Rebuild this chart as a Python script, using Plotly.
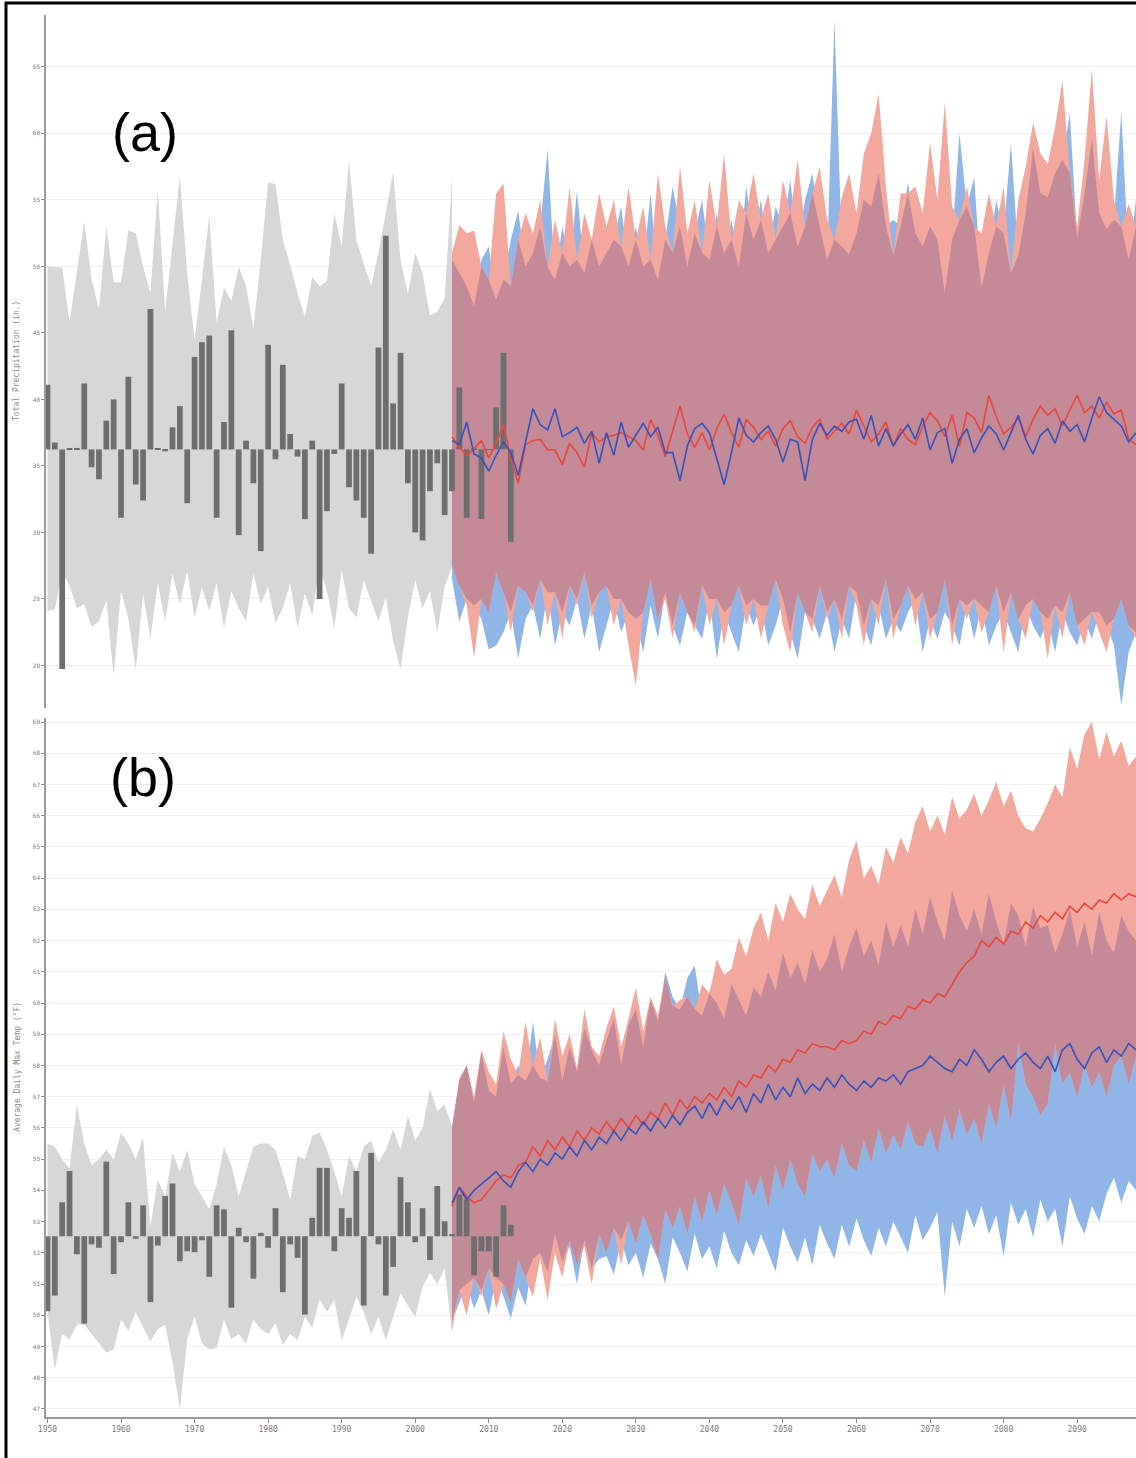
import numpy as np
import plotly.graph_objects as go

# ---------------- data ----------------
HIST_YEARS = list(range(1950, 2006))
BAR_YEARS = list(range(1950, 2014))
PROJ_YEARS = list(range(2005, 2099))
X_TICKS = list(range(1950, 2091, 10))
PRECIP_TICKS = list(range(20, 66, 5))
TEMP_TICKS = list(range(47, 70, 1))

PRECIP_BASE = 36.24
TEMP_BASE = 52.53

PRECIP_HIST_HI = [50.0, 49.95, 49.9, 45.8, 49.6, 53.4, 49.0, 46.8, 53.0, 48.8,
                  48.8, 52.7, 52.5, 50.0, 48.0, 55.8, 46.6, 51.5, 56.8, 49.5,
                  44.5, 49.0, 53.8, 45.8, 48.4, 47.4, 50.0, 48.5, 45.3, 50.5,
                  56.3, 56.2, 52.0, 50.1, 48.0, 46.2, 49.2, 48.5, 48.9, 54.0,
                  51.5, 58.0, 52.0, 50.2, 48.5, 51.0, 54.0, 57.1, 50.5, 47.9,
                  51.0, 49.5, 46.3, 46.6, 47.6, 56.7]
PRECIP_HIST_LO = [24.1, 24.2, 27.0, 26.0, 24.3, 24.6, 22.9, 23.3, 24.9, 19.2,
                  25.6, 23.5, 19.7, 25.4, 22.0, 26.2, 23.3, 26.9, 24.6, 27.1,
                  23.6, 25.9, 24.1, 26.2, 22.8, 25.6, 24.3, 23.3, 26.9, 24.6,
                  25.9, 23.2, 24.3, 26.2, 22.8, 25.4, 23.8, 27.4, 25.6, 22.8,
                  27.2, 24.3, 23.6, 26.4, 24.8, 23.3, 25.1, 21.8, 19.7, 23.6,
                  26.4, 24.3, 25.6, 22.5, 25.9, 27.4]
PRECIP_BARS = [41.1, 36.76, 19.74, 36.3, 36.35, 41.2, 34.9, 34.0, 38.4, 40.0,
               31.1, 41.7, 33.6, 32.4, 46.8, 36.3, 36.1, 37.9, 39.5, 32.2,
               43.2, 44.3, 44.8, 31.1, 38.3, 45.2, 29.8, 36.9, 33.7, 28.6,
               44.1, 35.5, 42.6, 37.4, 35.7, 31.0, 36.9, 25.0, 31.6, 35.9,
               41.2, 33.4, 32.4, 31.1, 28.4, 43.9, 52.3, 39.7, 43.5, 33.7,
               30.0, 29.4, 33.1, 35.2, 31.3, 33.1, 40.9, 31.1, 36.3, 31.0,
               36.2, 39.4, 43.5, 29.3]
PRECIP_RED_HI = [51.0, 53.1, 52.5, 52.7, 50.0, 49.0, 55.5, 56.2, 48.5, 52.0, 54.0,
                 52.5, 55.0, 50.0, 53.5, 51.0, 56.0, 50.5, 54.0, 52.0, 55.5,
                 53.0, 55.0, 51.5, 56.0, 52.0, 54.5, 50.5, 57.0, 53.0, 51.0,
                 57.5, 52.5, 55.0, 51.0, 56.5, 53.0, 58.5, 52.0, 55.0, 54.0,
                 57.0, 53.5, 55.5, 52.0, 56.5, 54.0, 58.0, 53.0, 55.5, 57.5,
                 53.5, 52.0, 55.2, 57.0, 54.0, 58.5, 60.0, 63.0, 56.0, 50.8,
                 55.5, 55.5, 56.0, 54.0, 59.3, 55.0, 62.3, 54.5, 53.5, 56.0,
                 53.0, 52.5, 55.5, 53.0, 56.0, 49.5, 55.0, 57.5, 60.8, 58.5,
                 57.7, 60.5, 64.0, 57.0, 53.0, 58.0, 64.8, 56.5, 61.3, 55.0, 53.0, 54.7, 53.0]
PRECIP_BLUE_HI = [50.5, 49.5, 48.5, 47.0, 50.5, 51.5, 47.5, 49.0, 52.0, 54.2, 50.0,
                  51.0, 53.0, 58.8, 49.0, 53.0, 50.0, 55.7, 49.5, 52.0, 50.0,
                  51.0, 52.0, 54.5, 50.0, 53.0, 50.0, 55.5, 49.0, 52.0, 56.0,
                  53.0, 50.0, 52.5, 55.0, 50.5, 54.0, 51.0, 53.5, 50.0, 56.0,
                  52.0, 55.0, 51.0, 54.5, 53.0, 56.5, 51.5, 55.0, 57.0, 53.0,
                  50.5, 68.5, 51.5, 50.9, 52.5, 55.0, 54.5, 57.0, 53.0, 53.5,
                  53.0, 56.3, 52.5, 51.5, 53.0, 52.0, 48.0, 52.0, 60.0, 54.5,
                  56.7, 48.4, 51.0, 55.0, 52.5, 59.3, 50.8, 54.0, 58.9, 55.5,
                  55.2, 57.0, 58.0, 61.5, 52.1, 55.5, 59.6, 54.0, 52.8, 53.5, 61.6, 50.5, 55.0]
PRECIP_RED_LO = [27.5, 26.0, 24.5, 20.6, 25.0, 24.0, 27.0, 25.5, 22.5, 26.0, 25.5,
                 24.0, 26.5, 23.0, 25.5, 22.0, 26.0, 24.5, 27.0, 23.5, 25.5,
                 26.0, 23.0, 25.0, 21.5, 18.5, 24.0, 26.5, 23.5, 25.0, 22.0,
                 25.5, 24.0, 22.5, 26.0, 23.0, 25.0, 21.5, 24.5, 26.0, 23.0,
                 25.0, 22.0, 24.5, 26.5, 23.0, 21.0, 25.5, 24.0, 22.5, 26.0,
                 23.5, 25.0, 22.0, 26.0, 24.5, 21.5, 25.0, 23.0, 26.5, 22.0,
                 24.5, 26.0, 23.0, 25.5, 22.0, 24.0, 26.5, 21.5, 25.0, 23.5,
                 25.0, 22.5, 24.0, 26.0, 21.0, 25.5, 23.5, 22.0, 25.0, 24.0,
                 20.5, 24.5, 22.0, 25.5, 23.0, 21.5, 24.0, 22.5, 21.0, 23.5, 25.0, 23.0, 22.0]
PRECIP_BLUE_LO = [26.5, 23.3, 25.0, 24.5, 23.5, 21.2, 21.5, 22.5, 24.0, 20.5, 23.5,
                  24.5, 22.0, 25.5, 21.5, 24.0, 23.0, 25.0, 22.0, 24.5, 21.0,
                  23.0, 25.0, 22.5, 24.0, 23.5, 21.0, 24.5, 22.0, 25.5, 23.0,
                  21.5, 24.0, 23.0, 22.0, 25.0, 20.5, 24.0, 22.5, 21.0, 24.5,
                  23.0, 24.5, 21.5, 23.0, 25.0, 22.5, 20.5, 24.0, 23.5, 22.0,
                  24.0, 21.0, 23.5, 22.0, 25.5, 23.0, 21.5, 24.5, 22.0, 23.5,
                  22.5, 24.0, 25.0, 21.0, 23.5, 22.0, 24.0, 23.0, 21.5, 24.5,
                  22.0, 24.5, 21.5, 23.0, 24.0, 22.5, 21.0, 24.5, 23.0, 22.0,
                  23.5, 21.0, 24.0, 22.5, 21.5, 23.5, 22.0, 24.0, 23.0, 21.5, 17.0, 21.0, 22.5]
PRECIP_RED_MID = [37.2, 36.4, 35.8, 36.3, 36.9, 35.6, 36.7, 38.1, 35.6, 33.7, 36.6,
                  36.9, 37.0, 36.2, 36.2, 35.1, 36.7, 36.0, 34.9, 37.5, 36.8,
                  37.2, 37.3, 37.5, 37.2, 36.9, 36.2, 38.5, 37.3, 35.7, 37.6,
                  39.5, 37.4, 36.4, 37.5, 36.2, 37.8, 38.9, 37.5, 36.4, 38.5,
                  37.9, 37.0, 37.6, 36.5, 37.8, 38.4, 37.2, 36.7, 37.9, 38.5,
                  37.0, 37.6, 38.2, 37.4, 39.2, 38.0, 36.8, 37.4, 38.3, 36.5,
                  37.8, 37.0, 36.6, 38.0, 39.0, 38.4, 37.2, 38.8, 36.5, 39.0,
                  38.6, 37.5, 40.3, 38.7, 37.4, 37.9, 38.6, 37.2, 38.5, 39.5,
                  38.8, 39.3, 38.0, 39.2, 40.3, 39.0, 39.5, 38.6, 39.8, 38.9, 39.2, 37.0, 36.6]
PRECIP_BLUE_MID = [36.9, 36.6, 38.3, 35.9, 35.6, 34.6, 35.8, 36.8, 36.0, 34.3, 36.8,
                   39.3, 38.1, 37.7, 39.3, 37.2, 37.5, 37.9, 36.7, 37.6, 35.2,
                   37.5, 35.8, 38.3, 36.4, 37.3, 38.2, 37.2, 37.9, 36.0, 36.0,
                   33.9, 36.5, 37.8, 38.2, 37.5, 35.5, 33.6, 36.0, 38.6, 37.3,
                   36.8, 37.5, 38.0, 37.0, 35.3, 37.0, 36.8, 33.9, 37.0, 38.2,
                   37.3, 38.0, 37.6, 38.3, 38.5, 37.0, 38.8, 36.5, 37.8, 36.5,
                   37.4, 38.1, 37.0, 38.6, 36.2, 37.5, 37.8, 35.2, 37.0, 37.8,
                   36.0, 37.1, 38.0, 37.4, 36.2, 37.5, 38.8, 37.0, 35.9, 37.3,
                   37.8, 36.7, 38.4, 37.6, 38.1, 36.8, 38.6, 40.2, 39.0, 38.5, 38.0, 36.8, 37.5]

TEMP_HIST_HI = [55.5, 55.4, 55.0, 54.7, 56.75, 55.5, 54.8, 55.0, 55.3, 55.0,
                55.85, 55.5, 55.0, 55.7, 52.85, 54.35, 53.8, 55.2, 54.6, 55.3,
                54.2, 53.8, 53.4, 54.2, 55.4, 54.8, 53.8, 54.6, 55.4, 55.5,
                55.5, 55.3, 54.55, 53.7, 55.1, 55.0, 55.75, 55.85, 55.3, 54.6,
                53.8, 55.1, 54.6, 55.4, 55.6, 54.9, 55.3, 55.95, 55.3, 56.4,
                55.6, 56.0, 57.25, 56.55, 56.75, 56.05]
TEMP_HIST_LO = [50.1, 48.26, 49.4, 49.22, 49.7, 49.7, 49.4, 49.1, 48.8, 48.9,
                49.86, 49.5, 50.1, 49.6, 49.17, 49.55, 49.7, 48.5, 46.98, 49.22,
                49.97, 49.1, 48.9, 48.95, 49.86, 49.22, 49.4, 49.1, 49.86, 49.55,
                49.4, 49.75, 49.05, 49.4, 49.2, 49.95, 49.6, 50.5, 50.1, 50.5,
                49.2, 49.86, 50.6, 50.1, 49.4, 49.95, 49.2, 49.95, 50.7, 50.3,
                49.95, 50.9, 51.36, 51.0, 51.5, 49.4]
TEMP_BARS = [50.13, 50.63, 53.62, 54.62, 51.95, 49.73, 52.27, 52.16, 54.92, 51.32,
             52.34, 53.62, 52.45, 53.52, 50.42, 52.23, 53.82, 54.22, 51.73, 52.05,
             52.02, 52.4, 51.23, 53.52, 53.39, 50.24, 52.8, 52.34, 51.17, 52.64,
             52.16, 53.43, 50.74, 52.27, 51.84, 50.02, 53.12, 54.72, 54.72, 52.05,
             53.43, 53.12, 54.62, 50.31, 55.2, 52.27, 50.63, 51.55, 54.42, 53.62,
             52.34, 53.43, 51.77, 54.14, 53.01, 52.6, 53.87, 53.71, 51.28, 52.05,
             52.05, 51.23, 53.52, 52.9]
TEMP_RED_HI = [56.0, 57.6, 58.0, 57.0, 58.5, 57.8, 57.4, 59.1, 58.2, 57.7, 59.4,
               58.0, 58.9, 57.5, 59.5, 58.3, 59.0, 57.9, 59.8, 58.6, 58.3,
               59.2, 59.9, 58.6, 59.5, 60.5, 59.1, 60.2, 59.6, 60.8, 59.9,
               60.1, 60.2, 59.8, 60.6, 60.3, 61.4, 60.9, 61.1, 62.1, 61.5,
               62.4, 62.9, 62.0, 63.2, 62.6, 63.5, 63.0, 62.7, 63.8, 63.1,
               63.6, 64.1, 63.4, 64.6, 65.2, 64.0, 64.4, 63.8, 65.0, 64.5,
               65.3, 64.8, 65.8, 66.3, 65.5, 66.0, 65.4, 66.6, 65.9, 66.2,
               66.7, 66.0, 66.5, 67.1, 66.3, 66.8, 66.0, 65.6, 65.5, 65.9,
               66.4, 67.0, 66.6, 68.2, 67.5, 68.6, 69.0, 67.8, 68.7, 67.9, 68.4, 67.6, 67.9]
TEMP_BLUE_HI = [56.0, 57.5, 58.0, 56.8, 58.4, 57.2, 57.0, 58.6, 57.4, 58.0, 57.5,
                59.4, 57.6, 58.2, 59.0, 57.5, 58.6, 57.8, 59.2, 58.5, 58.0,
                58.8, 59.5, 58.0, 59.3, 59.8, 58.6, 60.1, 59.4, 61.0, 60.2,
                59.8, 60.8, 61.2, 59.6, 60.4, 60.0, 59.5, 60.6, 60.1, 59.6,
                60.5, 60.2, 61.0, 60.4, 61.6, 60.8, 61.3, 60.6, 61.7, 61.0,
                61.4, 62.2, 61.0, 61.8, 62.4, 61.5, 62.0, 61.2, 62.6, 61.8,
                62.5, 61.8, 63.0, 62.2, 63.4, 62.6, 62.0, 63.6, 62.8, 62.3,
                63.0, 62.2, 63.5, 62.6, 61.9, 63.2, 62.8, 61.8, 63.1, 62.4,
                62.5, 61.6, 62.2, 63.0, 61.8, 62.6, 61.5, 62.9, 62.0, 61.6, 62.8, 62.3, 62.0]
TEMP_RED_LO = [49.5, 50.8, 50.0, 51.2, 50.6, 51.5, 50.2, 51.0, 50.4, 51.8, 51.2,
               50.6, 51.8, 50.5, 52.0, 51.2, 52.4, 51.6, 52.2, 51.0, 52.6,
               52.0, 52.8, 51.6, 53.0, 52.3, 53.2, 52.6, 51.8, 53.4, 52.8,
               53.5, 52.6, 53.8, 53.0, 54.0, 53.2, 54.2, 53.6, 52.9, 54.4,
               53.8, 54.5, 53.4, 54.8, 54.0, 55.0, 54.2, 53.8, 55.2, 54.6,
               55.0, 54.4, 55.5, 54.8, 54.6, 55.6, 54.9, 56.0, 55.2, 55.8,
               55.3, 56.2, 55.5, 55.4, 56.0, 55.2, 56.4, 55.6, 56.6, 55.8,
               56.3, 55.5, 56.8, 56.0, 57.4, 56.2, 58.7, 57.4, 57.0, 56.4,
               56.8, 58.7, 57.4, 57.8, 57.0, 58.0, 57.3, 57.8, 57.0, 58.0, 58.3, 57.4, 58.3]
TEMP_BLUE_LO = [49.8, 50.4, 51.0, 50.2, 50.8, 50.0, 51.2, 50.6, 49.9, 50.9, 50.3,
                51.8, 52.0, 51.4, 52.6, 51.7, 52.2, 51.0, 52.4, 51.5, 51.8,
                51.9, 51.3, 52.4, 51.6, 52.0, 51.2, 52.3, 51.8, 51.0, 52.5,
                52.0, 51.4, 52.6, 51.8, 52.2, 51.5, 52.7, 52.0, 51.6, 52.4,
                51.9, 52.6, 52.0, 51.4, 52.8, 52.2, 51.7, 52.5, 51.6, 52.9,
                52.3, 51.8, 52.9, 52.2, 53.1, 52.4, 51.9, 52.8, 52.2, 53.0,
                52.5, 52.0, 53.2, 52.4, 52.8, 53.3, 50.6, 53.0, 52.2, 53.4,
                52.8, 53.5, 52.6, 53.2, 51.9, 53.6, 52.9, 53.4, 52.5, 53.7,
                53.0, 53.4, 52.2, 53.8, 53.1, 52.6, 53.5, 53.0, 53.9, 54.4, 53.6, 54.3, 54.0]
TEMP_RED_MID = [53.5, 54.1, 53.8, 53.6, 53.7, 54.0, 54.3, 54.5, 54.4, 54.8, 54.9,
                55.4, 55.1, 55.6, 55.3, 55.7, 55.4, 55.9, 55.6, 56.0, 55.8,
                56.2, 55.9, 56.3, 56.0, 56.4, 56.1, 56.5, 56.3, 56.8, 56.4,
                56.9, 56.6, 57.0, 56.8, 57.1, 56.9, 57.3, 57.0, 57.5, 57.3,
                57.7, 57.6, 58.0, 57.8, 58.2, 58.1, 58.5, 58.4, 58.7, 58.6,
                58.6, 58.5, 58.8, 58.7, 58.8, 59.1, 59.0, 59.4, 59.3, 59.6,
                59.5, 59.9, 59.8, 60.1, 60.0, 60.3, 60.2, 60.6, 61.0, 61.3,
                61.5, 62.0, 61.8, 62.1, 61.9, 62.3, 62.2, 62.6, 62.4, 62.8,
                62.6, 62.9, 62.7, 63.1, 62.9, 63.2, 63.0, 63.3, 63.2, 63.5, 63.3, 63.5, 63.4]
TEMP_BLUE_MID = [53.6, 54.1, 53.7, 54.0, 54.2, 54.4, 54.6, 54.3, 54.1, 54.6, 54.9,
                 54.6, 55.0, 54.8, 55.2, 55.0, 55.4, 55.1, 55.6, 55.3, 55.7,
                 55.5, 55.9, 55.6, 56.0, 55.8, 56.2, 55.9, 56.3, 56.0, 56.4,
                 56.1, 56.5, 56.7, 56.3, 56.8, 56.4, 56.9, 56.6, 57.0, 56.5,
                 57.1, 56.8, 57.4, 56.9, 57.3, 57.0, 57.6, 57.1, 57.4, 57.2,
                 57.6, 57.3, 57.7, 57.4, 57.2, 57.5, 57.3, 57.6, 57.5, 57.7,
                 57.4, 57.8, 57.9, 58.0, 58.3, 58.1, 57.9, 57.8, 58.2, 58.0,
                 58.5, 58.2, 57.8, 58.1, 58.3, 57.9, 58.2, 58.4, 58.1, 57.9,
                 58.3, 57.8, 58.5, 58.7, 58.2, 57.9, 58.4, 58.6, 58.1, 58.5, 58.3, 58.7, 58.5]

for arr in [PRECIP_HIST_HI, PRECIP_HIST_LO, TEMP_HIST_HI, TEMP_HIST_LO]:
    assert len(arr) == len(HIST_YEARS), len(arr)
for arr in [PRECIP_BARS, TEMP_BARS]:
    assert len(arr) == len(BAR_YEARS), len(arr)
for arr in [PRECIP_RED_HI, PRECIP_BLUE_HI, PRECIP_RED_LO, PRECIP_BLUE_LO, PRECIP_RED_MID, PRECIP_BLUE_MID,
            TEMP_RED_HI, TEMP_BLUE_HI, TEMP_RED_LO, TEMP_BLUE_LO, TEMP_RED_MID, TEMP_BLUE_MID]:
    assert len(arr) == len(PROJ_YEARS), len(arr)

# ---------------- style ----------------
GREY_BAND = "#d7d7d7"
BLUE_BAND = "#8fb6e6"
RED_BAND = "#f3a89e"
BOTH_BAND = "#c48a98"
BAR_COLOR = "#6e6e6e"
RED_LINE = "#e8473a"
BLUE_LINE = "#3352bd"
TICK_FONT = "DejaVu Sans Mono"

W, H = 1136, 1458
ML, MR, MT, MB = 46, 0, 15, 41
PW, PH = W - ML - MR, H - MT - MB
PRECIP_RANGE = [16.8, 68.9]
TEMP_RANGE = [46.74, 69.13]


def px_x(px):
    return (px - ML) / PW


def px_y(py):
    return (H - MB - py) / PH


def band(x, hi, lo, color, yaxis):
    return go.Scatter(x=list(x) + list(x)[::-1], y=list(hi) + list(lo)[::-1],
                      fill="toself", fillcolor=color, mode="lines",
                      line=dict(width=0, color=color), hoverinfo="skip",
                      showlegend=False, xaxis="x", yaxis=yaxis)


def panel(fig, yaxis, topaxis, hist_hi, hist_lo, bars, base, red_hi, red_lo, blue_hi, blue_lo, red_mid, blue_mid):
    fig.add_trace(band(HIST_YEARS, hist_hi, hist_lo, GREY_BAND, yaxis))
    fig.add_trace(band(PROJ_YEARS, blue_hi, blue_lo, BLUE_BAND, yaxis))
    fig.add_trace(band(PROJ_YEARS, red_hi, red_lo, RED_BAND, yaxis))
    both_hi = np.minimum(red_hi, blue_hi)
    both_lo = np.minimum(np.maximum(red_lo, blue_lo), both_hi)
    fig.add_trace(band(PROJ_YEARS, both_hi, both_lo, BOTH_BAND, yaxis))
    # bars and median lines live on an overlaid axis so they draw above the bands
    fig.add_trace(go.Bar(x=BAR_YEARS, y=[v - base for v in bars], base=base, width=0.78,
                         marker=dict(color=BAR_COLOR, line=dict(width=0)),
                         hoverinfo="skip", showlegend=False, xaxis="x", yaxis=topaxis))
    fig.add_trace(go.Scatter(x=PROJ_YEARS, y=red_mid, mode="lines",
                             line=dict(color=RED_LINE, width=1.6), hoverinfo="skip",
                             showlegend=False, xaxis="x", yaxis=topaxis))
    fig.add_trace(go.Scatter(x=PROJ_YEARS, y=blue_mid, mode="lines",
                             line=dict(color=BLUE_LINE, width=1.6), hoverinfo="skip",
                             showlegend=False, xaxis="x", yaxis=topaxis))


fig = go.Figure()
panel(fig, "y", "y3", PRECIP_HIST_HI, PRECIP_HIST_LO, PRECIP_BARS, PRECIP_BASE,
      PRECIP_RED_HI, PRECIP_RED_LO, PRECIP_BLUE_HI, PRECIP_BLUE_LO, PRECIP_RED_MID, PRECIP_BLUE_MID)
panel(fig, "y2", "y4", TEMP_HIST_HI, TEMP_HIST_LO, TEMP_BARS, TEMP_BASE,
      TEMP_RED_HI, TEMP_RED_LO, TEMP_BLUE_HI, TEMP_BLUE_LO, TEMP_RED_MID, TEMP_BLUE_MID)

yax_common = dict(showline=True, linecolor="#9a9a9a", linewidth=1.5,
                  ticks="outside", ticklen=3, tickcolor="#888", tickwidth=1,
                  showgrid=True, gridcolor="#efefef", gridwidth=1, zeroline=False,
                  tickfont=dict(family=TICK_FONT, size=6, color="#7a7a7a"),
                  anchor="x", fixedrange=True)

fig.update_layout(
    width=W, height=H,
    margin=dict(l=ML, r=MR, t=MT, b=MB),
    paper_bgcolor="white", plot_bgcolor="white",
    barmode="overlay", showlegend=False,
    xaxis=dict(range=[1949.8, 2098.0], tickvals=X_TICKS, ticktext=[str(t) for t in X_TICKS],
               showline=True, linecolor="#9a9a9a", linewidth=1.5,
               ticks="outside", ticklen=4, tickcolor="#888",
               showgrid=False, zeroline=False, anchor="y2", fixedrange=True,
               tickfont=dict(family=TICK_FONT, size=8, color="#7a7a7a")),
    yaxis=dict(domain=[px_y(708), 1.0], range=PRECIP_RANGE, tickvals=PRECIP_TICKS, **yax_common),
    yaxis2=dict(domain=[0.0, px_y(718)], range=TEMP_RANGE, tickvals=TEMP_TICKS, **yax_common),
    yaxis3=dict(overlaying="y", range=PRECIP_RANGE, visible=False, anchor="x", fixedrange=True),
    yaxis4=dict(overlaying="y2", range=TEMP_RANGE, visible=False, anchor="x", fixedrange=True),
)

ann_common = dict(xref="paper", yref="paper", showarrow=False, xanchor="center", yanchor="middle")
fig.add_annotation(x=px_x(17), y=px_y(361), text="Total Precipitation (in.)", textangle=-90,
                   font=dict(family=TICK_FONT, size=8, color="#8a8a8a"), **ann_common)
fig.add_annotation(x=px_x(17), y=px_y(1067), text="Average Daily Max Temp (°F)", textangle=-90,
                   font=dict(family=TICK_FONT, size=8, color="#8a8a8a"), **ann_common)
fig.add_annotation(x=px_x(145), y=px_y(132), text="(a)",
                   font=dict(family="Liberation Sans", size=54, color="black"), **ann_common)
fig.add_annotation(x=px_x(143), y=px_y(777), text="(b)",
                   font=dict(family="Liberation Sans", size=54, color="black"), **ann_common)

# image frame (left and top edges)
fig.add_shape(type="line", xref="paper", yref="paper", x0=px_x(6), x1=px_x(6),
              y0=px_y(2), y1=px_y(1460), line=dict(color="black", width=3))
fig.add_shape(type="line", xref="paper", yref="paper", x0=px_x(5), x1=px_x(1136),
              y0=px_y(3), y1=px_y(3), line=dict(color="black", width=3))

fig.write_html("out.html", config={"displayModeBar": False},
               post_script="document.body.style.margin='0';")
